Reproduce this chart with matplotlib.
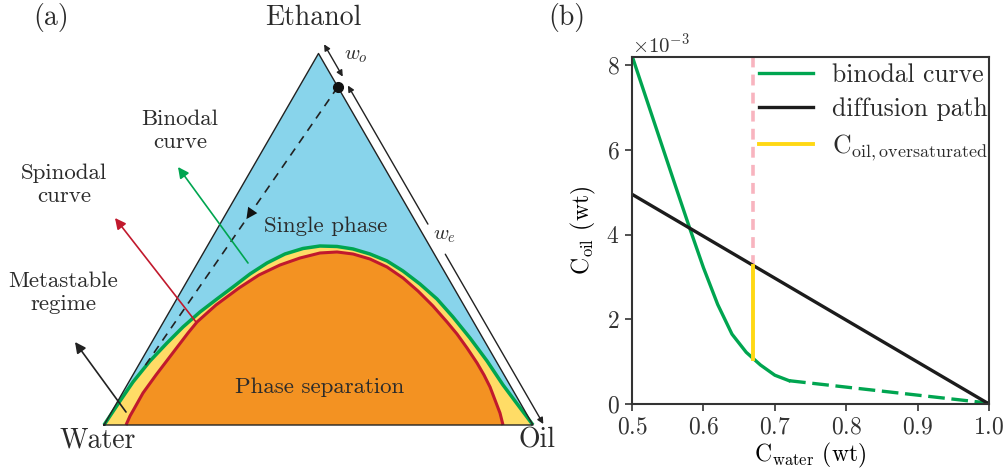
import numpy as np
import matplotlib.pyplot as plt

plt.rcParams['font.family'] = 'cmr10'
plt.rcParams['mathtext.fontset'] = 'cm'
plt.rcParams['axes.formatter.use_mathtext'] = True
plt.rcParams['text.color'] = '#2b2b2b'

# --- (a) ternary diagram, compositions as (oil, ethanol) mass fractions ---
binodal_oil = [0.0, 0.0024, 0.0050, 0.0097, 0.0211, 0.0365, 0.0522, 0.0717, 0.0938, 0.1150,
               0.1371, 0.1620, 0.1917, 0.2263, 0.2626, 0.3029, 0.3435, 0.3898, 0.4390,
               0.4897, 0.5468, 0.6066, 0.6681, 0.7360, 0.8067, 0.8763, 0.9381, 1.0]
binodal_eth = [0.0, 0.0323, 0.0646, 0.1157, 0.1723, 0.2207, 0.2638, 0.3042, 0.3392, 0.3715,
               0.4065, 0.4361, 0.4603, 0.4751, 0.4818, 0.4805, 0.4738, 0.4603, 0.4415,
               0.4145, 0.3795, 0.3392, 0.2907, 0.2342, 0.1723, 0.1077, 0.0538, 0.0]
spinodal_oil = [0.0513, 0.0485, 0.0484, 0.0478, 0.0539, 0.0629, 0.0720, 0.0782, 0.0996, 0.1303,
                0.1594, 0.1950, 0.2321, 0.2720, 0.3103, 0.3502, 0.3966, 0.4470, 0.4992,
                0.5515, 0.6067, 0.6609, 0.7003, 0.7426, 0.7861, 0.8185, 0.8487, 0.8778,
                0.9069, 0.9301]
spinodal_eth = [0.0, 0.0242, 0.0431, 0.0861, 0.1346, 0.1911, 0.2476, 0.2773, 0.3230, 0.3688,
                0.4038, 0.4307, 0.4495, 0.4630, 0.4657, 0.4603, 0.4468, 0.4253, 0.3957,
                0.3607, 0.3203, 0.2773, 0.2450, 0.2073, 0.1669, 0.1346, 0.1023, 0.0673,
                0.0323, 0.0]
path_start = (0.09, 0.91)
path_end = (0.0155, 0.156)

# --- (b) oil concentration (x1e-3) vs water concentration ---
cw_binodal = [0.50, 0.52, 0.54, 0.56, 0.58, 0.60, 0.62, 0.64, 0.66, 0.68, 0.70, 0.72]
coil_binodal = [8.22, 7.21, 6.20, 5.19, 4.19, 3.22, 2.35, 1.65, 1.22, 0.92, 0.68, 0.55]
cw_binodal_ext = [0.72, 1.0]
coil_binodal_ext = [0.55, 0.02]
cw_path = [0.5, 1.0]
coil_path = [4.95, 0.0]
cw_sat = 0.67

BLUE = '#88d4eb'
YELLOW = '#ffdc66'
ORANGE = '#f39222'
GREEN = '#00a550'
RED = '#c1192d'
SQ3 = np.sqrt(3) / 2


def tern(oil, eth):
    oil = np.asarray(oil, dtype=float)
    eth = np.asarray(eth, dtype=float)
    return oil + eth / 2, eth * SQ3


def P(px, py):
    # figure pixel -> triangle coordinates (side = 429 px, water corner at 104, 425)
    return ((px - 104) / 429, (425 - py) / 429)


def edge(t, off=0.022):
    # point along the ethanol-oil edge, shifted outwards
    x = 0.5 + 0.5 * t + off * SQ3
    y = SQ3 * (1 - t) + off * 0.5
    return (x, y)


fig = plt.figure(figsize=(10.08, 4.75), dpi=100)

ax = fig.add_axes([0, 0, 0.6, 1])
ax.set_xlim(-104 / 429, (604.8 - 104) / 429)
ax.set_ylim(-50 / 429, 425 / 429)
ax.axis('off')

ax.fill(*tern([0, 1, 0], [0, 0, 1]), color=BLUE, lw=0)
ax.fill(*tern(binodal_oil, binodal_eth), color=YELLOW, lw=0)
ax.fill(*tern(spinodal_oil, spinodal_eth), color=ORANGE, lw=0)
ax.plot(*tern(spinodal_oil, spinodal_eth), color=RED, lw=2.2, solid_capstyle='butt',
        solid_joinstyle='round')
ax.plot(*tern(binodal_oil, binodal_eth), color=GREEN, lw=2.5, solid_capstyle='butt',
        solid_joinstyle='round')
ax.plot(*tern([0, 1, 0, 0], [0, 0, 1, 0]), color='#222222', lw=1.0)

# diffusion path
xs, ys = tern([path_start[0], path_end[0]], [path_start[1], path_end[1]])
ax.plot(xs, ys, color='#222222', lw=1.2, ls=(0, (5, 4)))
ax.plot(xs[0], ys[0], 'o', color='#111111', ms=7)
t = 0.48
mid = (xs[0] + t * (xs[1] - xs[0]), ys[0] + t * (ys[1] - ys[0]))
pre = (xs[0] + (t - 0.05) * (xs[1] - xs[0]), ys[0] + (t - 0.05) * (ys[1] - ys[0]))
ax.annotate('', xy=mid, xytext=pre,
            arrowprops=dict(arrowstyle='-|>', color='#111111', lw=0, mutation_scale=20))

# w_o and w_e markers along the right edge
thin = dict(color='#222222', lw=1.0, mutation_scale=9, shrinkA=0, shrinkB=0)
ax.annotate('', xy=edge(-0.012), xytext=edge(0.075), arrowprops=dict(arrowstyle='<|-|>', **thin))
ax.annotate('', xy=edge(0.099), xytext=edge(0.472), arrowprops=dict(arrowstyle='-|>', **thin))
ax.annotate('', xy=edge(1.01), xytext=edge(0.553), arrowprops=dict(arrowstyle='-|>', **thin))
ax.text(*P(356, 56), '$w_o$', fontsize=15, ha='center', va='center')
ax.text(*P(445, 236), '$w_e$', fontsize=15, ha='center', va='center')

# labelled arrows
ax.annotate('', xy=P(178, 167), xytext=P(248, 263),
            arrowprops=dict(arrowstyle='-|>', color=GREEN, lw=1.2, mutation_scale=16, shrinkA=0, shrinkB=0))
ax.annotate('', xy=P(115, 218), xytext=P(196, 322),
            arrowprops=dict(arrowstyle='-|>', color=RED, lw=1.2, mutation_scale=16, shrinkA=0, shrinkB=0))
ax.annotate('', xy=P(75, 342), xytext=P(126, 412),
            arrowprops=dict(arrowstyle='-|>', color='#222222', lw=1.2, mutation_scale=16, shrinkA=0, shrinkB=0))

small = dict(fontsize=16.5, ha='center', va='center', linespacing=1.25)
ax.text(*P(180, 131), 'Binodal\ncurve', **small)
ax.text(*P(64, 185), 'Spinodal\ncurve', **small)
ax.text(*P(63, 293), 'Metastable\nregime', **small)
ax.text(*P(326, 226), 'Single phase', **small)
ax.text(*P(320, 387), 'Phase separation', **small)

big = dict(fontsize=20, ha='center', va='center', clip_on=False)
ax.text(*P(313, 18), 'Ethanol', **big)
ax.text(*P(98, 440), 'Water', **big)
ax.text(*P(537, 440), 'Oil', **big)
fig.text(51 / 1008, 1 - 18 / 475, '(a)', fontsize=20, ha='center', va='center')
fig.text(567 / 1008, 1 - 18 / 475, '(b)', fontsize=20, ha='center', va='center')

# --- (b) ---
ax2 = fig.add_axes([632 / 1008, 1 - 404 / 475, 357 / 1008, 347 / 475])
scale = 1e-3
coil_b = np.array(coil_binodal) * scale
coil_sat_low = np.interp(cw_sat, cw_binodal, coil_b)
coil_sat_high = np.interp(cw_sat, cw_path, np.array(coil_path) * scale)
ytop = 8.19e-3

ax2.plot([cw_sat, cw_sat], [coil_sat_high, ytop], color='#f8b4bf', lw=2.6, ls=(0, (3, 2)))
ax2.plot(cw_binodal, coil_b, color=GREEN, lw=2.4, label='binodal curve',
         solid_joinstyle='round')
ax2.plot(cw_binodal_ext, np.array(coil_binodal_ext) * scale, color=GREEN, lw=2.4, ls=(0, (5, 2)))
ax2.plot(cw_path, np.array(coil_path) * scale, color='#1c1c1c', lw=2.4, label='diffusion path')
ax2.plot([cw_sat, cw_sat], [coil_sat_low, coil_sat_high], color='#ffd814', lw=2.8,
         label=r'$\mathrm{C}_{\mathrm{oil,oversaturated}}$')

ax2.set_xlim(0.5, 1.0)
ax2.set_ylim(0, ytop)
ax2.set_xticks([0.5, 0.6, 0.7, 0.8, 0.9, 1.0])
ax2.set_yticks([0, 2e-3, 4e-3, 6e-3, 8e-3])
ax2.ticklabel_format(axis='y', style='sci', scilimits=(0, 0))
ax2.yaxis.get_offset_text().set_fontsize(15)
ax2.tick_params(direction='out', length=5, width=1.2, labelsize=17, colors='#333333', pad=4)
for s in ax2.spines.values():
    s.set_linewidth(1.5)
    s.set_color('#333333')
ax2.set_xlabel(r'$\mathrm{C}_{\mathrm{water}}$ (wt)', fontsize=17, labelpad=2)
ax2.set_ylabel(r'$\mathrm{C}_{\mathrm{oil}}$ (wt)', fontsize=17, labelpad=6)
ax2.legend(loc='upper right', bbox_to_anchor=(1.025, 1.012), frameon=False, fontsize=18.5,
           handlelength=2.1, handletextpad=0.74, labelspacing=0.42, borderaxespad=0)

fig.savefig('out.png', dpi=100)
